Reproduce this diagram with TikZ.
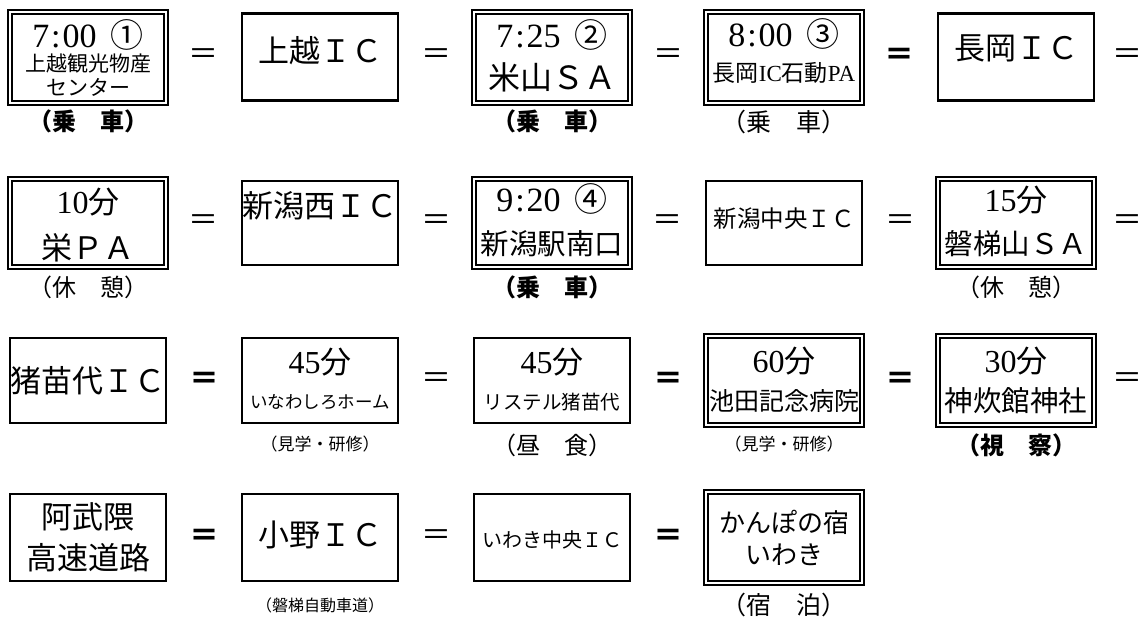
\documentclass[tikz,border=0pt]{standalone}
\usepackage{fontspec}
\setmainfont{Liberation Serif}
\newfontfamily\jp{Noto Sans CJK JP}
\newcommand\fz[1]{\fontsize{#1}{#1}\selectfont}
\newcommand\tm[3]{{\fz{34}#1\kern2pt:\kern2pt#2}\hspace{14pt}{\jp\fz{33}#3}}
\newcommand\mn[2]{{\fz{32}#1}{\jp\fz{31}#2}}
\usetikzlibrary{calc}
\tikzset{
  sbox/.style={draw, line width=2.2pt, inner sep=0pt, minimum width=156pt},
  dbox/.style={draw, line width=2pt, double distance=2pt, inner sep=0pt, minimum width=156pt},
  eq/.style={inner sep=0pt, font=\jp\fz{30}},
  eqb/.style={inner sep=0pt, font=\jp\bfseries\fz{30}},
  lab/.style={inner sep=0pt, font=\jp\fz{24}},
  labb/.style={inner sep=0pt, font=\jp\bfseries\fz{24}},
  labs/.style={inner sep=0pt, font=\jp\fz{17}},
  txt/.style={inner sep=0pt}
}
\begin{document}
\begin{tikzpicture}[x=1pt,y=-1pt]
\fill[white] (0,0) rectangle (1143,619);
\useasboundingbox (0,0) rectangle (1143,619);
% ---------- row 1 ----------
\node[dbox, minimum height=91pt] (a1) at (88,57) {};
\node[txt] (a1x) at ($(a1)+(0,-22)$) {\tm{7}{00}{①}};
\node[txt, font=\jp\fz{21}] (a1y) at ($(a1)+(0,7)$) {上越観光物産};
\node[txt, font=\jp\fz{21}] (a1z) at ($(a1)+(0,30)$) {センター};
\node[sbox, minimum height=87pt] (a2) at (320,57) {};
\node[txt, font=\jp\fz{31}] (a2x) at ($(a2)+(0,-6)$) {上越ＩＣ};
\node[dbox, minimum height=91pt] (a3) at (552,57) {};
\node[txt] (a3x) at ($(a3)+(0,-22)$) {\tm{7}{25}{②}};
\node[txt, font=\jp\fz{32}] (a3y) at ($(a3)+(0,20)$) {米山ＳＡ};
\node[dbox, minimum height=91pt] (a4) at (784,57) {};
\node[txt] (a4x) at ($(a4)+(0,-23)$) {\tm{8}{00}{③}};
\node[txt, font=\jp\fz{23}] (a4y) at ($(a4)+(0,16)$) {長岡{\rmfamily IC}石動{\rmfamily PA}};
\node[sbox, minimum height=87pt] (a5) at (1016,57) {};
\node[txt, font=\jp\fz{31}] (a5x) at ($(a5)+(0,-9)$) {長岡ＩＣ};
\node[eq]  (e11) at ($(a1.east)!0.5!(a2.west)$) {＝};
\node[eq]  (e12) at ($(a2.east)!0.5!(a3.west)$) {＝};
\node[eq]  (e13) at ($(a3.east)!0.5!(a4.west)$) {＝};
\node[eqb] (e14) at ($(a4.east)!0.5!(a5.west)$) {＝};
\node[eq]  (e15) at ($(a5.east)+(32,0)$) {＝};
\node[labb] (l11) at (88,121) {（乗　車）};
\node[labb] (l13) at (552,121) {（乗　車）};
\node[lab, font=\jp\fz{25}] (l14) at (784,122) {（乗　車）};
% ---------- row 2 ----------
\node[dbox, minimum height=88pt] (b1) at (88,223) {};
\node[txt] (b1x) at ($(b1)+(0,-21)$) {\mn{10}{分}};
\node[txt, font=\jp\fz{31}] (b1y) at ($(b1)+(0,25)$) {栄ＰＡ};
\node[sbox, minimum height=84pt] (b2) at (320,223) {};
\node[txt, font=\jp\fz{31}] (b2x) at ($(b2)+(0,-17)$) {新潟西ＩＣ};
\node[dbox, minimum height=88pt] (b3) at (552,223) {};
\node[txt] (b3x) at ($(b3)+(0,-24)$) {\tm{9}{20}{④}};
\node[txt, font=\jp\fz{28.5}] (b3y) at ($(b3)+(0,21)$) {新潟駅南口};
\node[sbox, minimum height=84pt] (b4) at (784,223) {};
\node[txt, font=\jp\fz{23.5}] (b4x) at ($(b4)+(0,-4)$) {新潟中央ＩＣ};
\node[dbox, minimum height=88pt] (b5) at (1016,223) {};
\node[txt] (b5x) at ($(b5)+(0,-23)$) {\mn{15}{分}};
\node[txt, font=\jp\fz{28.5}] (b5y) at ($(b5)+(0,21)$) {磐梯山ＳＡ};
\node[eq] (e21) at ($(b1.east)!0.5!(b2.west)$) {＝};
\node[eq] (e22) at ($(b2.east)!0.5!(b3.west)$) {＝};
\node[eq] (e23) at ($(b3.east)!0.5!(b4.west)$) {＝};
\node[eq] (e24) at ($(b4.east)!0.5!(b5.west)$) {＝};
\node[eq] (e25) at ($(b5.east)+(32,0)$) {＝};
\node[lab]  (l21) at (88,287) {（休　憩）};
\node[labb] (l23) at (552,287) {（乗　車）};
\node[lab]  (l25) at (1016,287) {（休　憩）};
% ---------- row 3 ----------
\node[sbox, minimum height=85pt] (c1) at (88,380.5) {};
\node[txt, font=\jp\fz{31}] (c1x) at (c1) {猪苗代ＩＣ};
\node[sbox, minimum height=85pt] (c2) at (320,380.5) {};
\node[txt] (c2x) at ($(c2)+(0,-18)$) {\mn{45}{分}};
\node[txt, font=\jp\fz{17.5}] (c2y) at ($(c2)+(0,22)$) {いなわしろホーム};
\node[sbox, minimum height=85pt] (c3) at (552,380.5) {};
\node[txt] (c3x) at ($(c3)+(0,-18)$) {\mn{45}{分}};
\node[txt, font=\jp\fz{19.5}] (c3y) at ($(c3)+(0,22)$) {リステル猪苗代};
\node[dbox, minimum height=89pt] (c4) at (784,380.5) {};
\node[txt] (c4x) at ($(c4)+(0,-19)$) {\mn{60}{分}};
\node[txt, font=\jp\fz{25}] (c4y) at ($(c4)+(0,21)$) {池田記念病院};
\node[dbox, minimum height=89pt] (c5) at (1016,380.5) {};
\node[txt] (c5x) at ($(c5)+(0,-19)$) {\mn{30}{分}};
\node[txt, font=\jp\fz{28.5}] (c5y) at ($(c5)+(0,20)$) {神炊館神社};
\node[eqb] (e31) at ($(c1.east)!0.5!(c2.west)$) {＝};
\node[eq]  (e32) at ($(c2.east)!0.5!(c3.west)$) {＝};
\node[eqb] (e33) at ($(c3.east)!0.5!(c4.west)$) {＝};
\node[eqb] (e34) at ($(c4.east)!0.5!(c5.west)$) {＝};
\node[eq]  (e35) at ($(c5.east)+(32,0)$) {＝};
\node[labs] (l32) at (320,444) {（見学・研修）};
\node[lab]  (l33) at (552,445) {（昼　食）};
\node[labs] (l34) at (784,444) {（見学・研修）};
\node[labb] (l35) at (1016,445) {（視　察）};
% ---------- row 4 ----------
\node[sbox, minimum height=87pt] (d1) at (88,537.5) {};
\node[txt, font=\jp\fz{31}] (d1x) at ($(d1)+(0,-21)$) {阿武隈};
\node[txt, font=\jp\fz{31}] (d1y) at ($(d1)+(0,20)$) {高速道路};
\node[sbox, minimum height=87pt] (d2) at (320,537.5) {};
\node[txt, font=\jp\fz{31}] (d2x) at ($(d2)+(0,-3)$) {小野ＩＣ};
\node[sbox, minimum height=87pt] (d3) at (552,537.5) {};
\node[txt, font=\jp\fz{20}] (d3x) at ($(d3)+(0,2)$) {いわき中央ＩＣ};
\node[dbox, minimum height=91pt] (d4) at (784,537.5) {};
\node[txt, font=\jp\fz{26}] (d4x) at ($(d4)+(0,-15)$) {かんぽの宿};
\node[txt, font=\jp\fz{26}] (d4y) at ($(d4)+(0,17)$) {いわき};
\node[eqb] (e41) at ($(d1.east)!0.5!(d2.west)$) {＝};
\node[eq]  (e42) at ($(d2.east)!0.5!(d3.west)$) {＝};
\node[eqb] (e43) at ($(d3.east)!0.5!(d4.west)$) {＝};
\node[labs, font=\jp\fz{16}] (l42) at (320,605) {（磐梯自動車道）};
\node[lab, font=\jp\fz{25}] (l44) at (784,605) {（宿　泊）};
\end{tikzpicture}
\end{document}
